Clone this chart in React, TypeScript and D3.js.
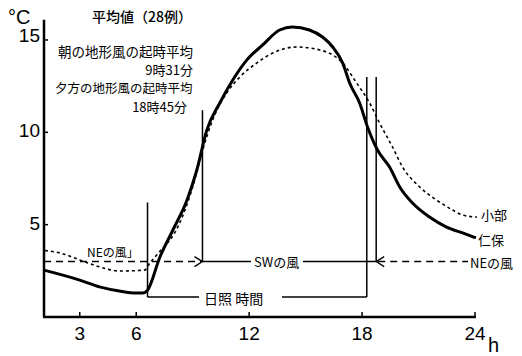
import React from 'react';
import * as d3 from 'd3';

// 仁保 (solid) — hour / °C
const nihoHours = [1.1, 3.0, 4.1, 5.1, 6.0, 6.35, 6.6, 7.26, 7.95, 8.7, 9.22, 9.75, 10.44, 11.13, 11.87, 12.72, 13.62, 14.3, 15.2, 15.9, 16.44, 16.97, 17.34, 17.87, 18.29, 18.82, 19.46, 20.0, 20.68, 21.58, 22.49, 23.34, 24.05];
const nihoTemps = [2.54, 2.0, 1.62, 1.41, 1.3, 1.3, 1.45, 3.25, 4.71, 6.33, 7.96, 10.12, 11.59, 12.83, 13.91, 14.73, 15.54, 15.7, 15.54, 15.16, 14.62, 13.75, 12.67, 11.59, 10.29, 9.04, 8.12, 7.04, 6.17, 5.41, 4.87, 4.55, 4.28];

// 小部 (dotted)
const kobeHours = [1.15, 1.94, 3.0, 4.06, 5.13, 6.45, 6.72, 7.09, 8.31, 9.0, 9.53, 10.06, 10.81, 11.5, 12.4, 13.25, 14.52, 15.75, 16.44, 16.97, 17.71, 18.4, 18.93, 19.62, 20.15, 21.06, 21.96, 22.81, 23.34, 24.1];
const kobeTemps = [3.6, 3.47, 3.09, 2.71, 2.49, 2.54, 2.92, 3.36, 5.09, 7.04, 9.04, 10.67, 12.13, 12.99, 13.75, 14.29, 14.62, 14.46, 14.19, 13.75, 12.67, 11.59, 10.5, 9.2, 8.12, 7.04, 6.33, 5.79, 5.52, 5.41];

const xTicks = [3, 6, 12, 18, 24];
const yTicks = [5, 10, 15];

// annotation times (hours) and levels (°C)
const sunrise = 6.6;
const sunset = 18.25;
const morningWind = 9.52; // 9時31分
const eveningWind = 18.75; // 18時45分
const windLevel = 3.0;
const sunLevel = 1.08;

const W = 522;
const H = 356;

const x = d3.scaleLinear().domain([1.1, 24]).range([44, 475]);
const y = d3.scaleLinear().domain([0, 16]).range([317, 21.5]);

const jp = '"Noto Sans CJK JP", sans-serif';
const num = '"Liberation Sans", Arial, sans-serif';

export default function App() {
  const line = d3.line<[number, number]>()
    .x(d => x(d[0]))
    .y(d => y(d[1]))
    .curve(d3.curveMonotoneX);

  const nihoPath = line(nihoHours.map((h, i) => [h, nihoTemps[i]]));
  const kobePath = line(kobeHours.map((h, i) => [h, kobeTemps[i]]));

  const wy = y(windLevel);
  const sy = y(sunLevel);
  const xm = x(morningWind);
  const xe = x(eveningWind);

  return (
    <svg width={W} height={H} style={{ position: 'absolute', left: 0, top: 0, background: '#fff' }}>
      {/* axes */}
      <line x1={x(1.1)} x2={x(1.1)} y1={y(16.1)} y2={y(0)} stroke="#000" strokeWidth={2.5} />
      <line x1={x(1.1) - 1} x2={x(24.05)} y1={y(0)} y2={y(0)} stroke="#000" strokeWidth={2.5} />
      {yTicks.map(t => (
        <g key={t}>
          <line x1={x(1.1)} x2={x(1.1) + 4} y1={y(t)} y2={y(t)} stroke="#000" strokeWidth={1.5} />
          <text x={40} y={y(t) + (t === 15 ? -3 : 0)} textAnchor="end" dominantBaseline="middle" fontFamily={num} fontSize={19}>{t}</text>
        </g>
      ))}
      {xTicks.map(t => (
        <g key={t}>
          <line x1={x(t)} x2={x(t)} y1={y(0)} y2={y(0) - 5} stroke="#000" strokeWidth={1.5} />
          <text x={x(t)} y={340} textAnchor="middle" fontFamily={num} fontSize={19}>{t}</text>
        </g>
      ))}
      <text x={488} y={352} fontFamily={num} fontSize={20}>h</text>
      <text x={8} y={24} fontFamily={num} fontSize={20}>°C</text>

      {/* headings */}
      <text x={92} y={22} fontFamily={jp} fontSize={14} fontWeight={500}>平均値（28例）</text>
      <text x={58} y={57} fontFamily={jp} fontSize={13.5}>朝の地形風の起時平均</text>
      <text x={193} y={75} textAnchor="end" fontFamily={jp} fontSize={13}>9時31分</text>
      <text x={55} y={93} fontFamily={jp} fontSize={12.5}>夕方の地形風の起時平均</text>
      <text x={187} y={112} textAnchor="end" fontFamily={jp} fontSize={13}>18時45分</text>

      {/* curves */}
      <path d={kobePath ?? ''} fill="none" stroke="#000" strokeWidth={1.6} strokeDasharray="3,3" />
      <path d={nihoPath ?? ''} fill="none" stroke="#000" strokeWidth={3} />
      <text x={481} y={220} fontFamily={jp} fontSize={13}>小部</text>
      <text x={478} y={245} fontFamily={jp} fontSize={13}>仁保</text>

      {/* vertical markers */}
      <line x1={x(sunrise)} x2={x(sunrise)} y1={y(6.2)} y2={sy} stroke="#000" strokeWidth={1.5} />
      <line x1={x(sunset)} x2={x(sunset)} y1={y(13)} y2={sy} stroke="#000" strokeWidth={1.5} />
      <line x1={xm} x2={xm} y1={y(11.2)} y2={wy} stroke="#000" strokeWidth={1.5} />
      <line x1={xe} x2={xe} y1={y(13)} y2={wy} stroke="#000" strokeWidth={1.5} />

      {/* wind: NE (dashed) → SW (solid) ← NE (dashed) */}
      <line x1={x(1.1)} x2={xm - 1} y1={wy} y2={wy} stroke="#000" strokeWidth={1.5} strokeDasharray="7,5" />
      <path d={`M${xm - 8},${wy - 5} L${xm},${wy} L${xm - 8},${wy + 5}`} fill="none" stroke="#000" strokeWidth={1.3} />
      <text x={87} y={257} fontFamily={jp} fontSize={12}>NEの風」</text>
      <line x1={xm} x2={251} y1={wy} y2={wy} stroke="#000" strokeWidth={1.5} />
      <text x={254} y={267} fontFamily={jp} fontSize={13}>SWの風</text>
      <line x1={303} x2={xe} y1={wy} y2={wy} stroke="#000" strokeWidth={1.5} />
      <path d={`M${xe + 8},${wy - 5} L${xe},${wy} L${xe + 8},${wy + 5}`} fill="none" stroke="#000" strokeWidth={1.3} />
      <line x1={xe + 2} x2={468} y1={wy} y2={wy} stroke="#000" strokeWidth={1.5} strokeDasharray="7,5" />
      <text x={470} y={268} fontFamily={jp} fontSize={13}>NEの風</text>

      {/* sunshine duration */}
      <line x1={x(sunrise)} x2={199} y1={sy} y2={sy} stroke="#000" strokeWidth={1.5} />
      <text x={204} y={304} fontFamily={jp} fontSize={14}>日照 時間</text>
      <line x1={282} x2={x(sunset)} y1={sy} y2={sy} stroke="#000" strokeWidth={1.5} />
    </svg>
  );
}
